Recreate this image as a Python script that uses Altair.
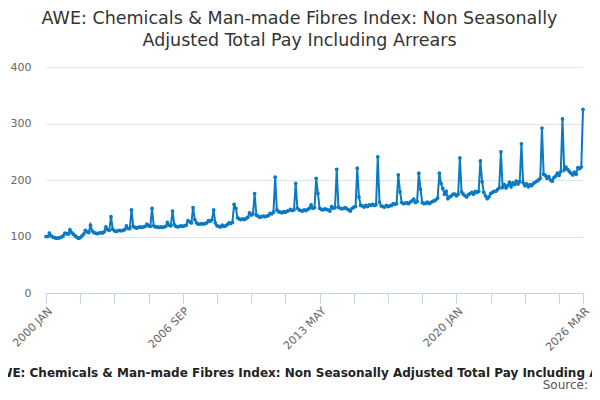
import json

import altair as alt
import pandas as pd

# monthly index values, one list per year
y2000 = [100, 100, 106, 101, 99, 98, 97, 97, 98, 99, 101, 106]
y2001 = [105, 104, 112, 107, 104, 101, 99, 97, 98, 101, 104, 111]
y2002 = [108, 107, 120, 110, 107, 106, 105, 106, 107, 106, 108, 117]
y2003 = [112, 111, 135, 113, 110, 109, 110, 111, 110, 111, 112, 119]
y2004 = [114, 114, 147, 118, 116, 115, 116, 117, 116, 117, 118, 122]
y2005 = [119, 118, 150, 119, 117, 117, 116, 117, 116, 117, 118, 125]
y2006 = [120, 119, 145, 121, 118, 117, 118, 119, 118, 119, 120, 128]
y2007 = [126, 124, 151, 130, 124, 122, 122, 123, 122, 123, 124, 128]
y2008 = [127, 129, 147, 124, 119, 118, 117, 120, 118, 119, 121, 124]
y2009 = [123, 125, 157, 150, 133, 131, 130, 131, 130, 132, 134, 142]
y2010 = [138, 140, 176, 138, 136, 134, 135, 136, 135, 136, 137, 141]
y2011 = [140, 143, 205, 147, 144, 143, 142, 144, 143, 145, 146, 148]
y2012 = [146, 147, 194, 150, 147, 146, 145, 147, 146, 148, 150, 156]
y2013 = [150, 151, 203, 176, 150, 148, 147, 149, 148, 147, 145, 153]
y2014 = [150, 151, 219, 152, 150, 149, 150, 151, 149, 147, 145, 150]
y2015 = [152, 153, 221, 170, 155, 154, 152, 155, 153, 156, 155, 157]
y2016 = [155, 156, 241, 161, 154, 153, 152, 155, 153, 154, 155, 158]
y2017 = [157, 158, 209, 179, 160, 158, 159, 160, 158, 161, 163, 166]
y2018 = [160, 162, 212, 184, 160, 158, 159, 161, 158, 160, 162, 163]
y2019 = [165, 168, 212, 194, 185, 175, 180, 167, 170, 172, 175, 175]
y2020 = [172, 175, 239, 179, 175, 172, 170, 174, 176, 178, 175, 180]
y2021 = [178, 180, 234, 197, 178, 172, 167, 170, 176, 178, 180, 180]
y2022 = [183, 186, 250, 187, 192, 186, 190, 196, 188, 195, 192, 198]
y2023 = [193, 197, 264, 195, 190, 193, 188, 192, 190, 194, 196, 198]
y2024 = [200, 203, 292, 210, 208, 203, 206, 200, 198, 204, 207, 212]
y2025 = [208, 215, 308, 218, 223, 219, 215, 212, 209, 214, 210, 222]
y2026 = [220, 223, 325]

values = (y2000 + y2001 + y2002 + y2003 + y2004 + y2005 + y2006 + y2007 + y2008
          + y2009 + y2010 + y2011 + y2012 + y2013 + y2014 + y2015 + y2016 + y2017
          + y2018 + y2019 + y2020 + y2021 + y2022 + y2023 + y2024 + y2025 + y2026)

month_names = ["JAN", "FEB", "MAR", "APR", "MAY", "JUN",
               "JUL", "AUG", "SEP", "OCT", "NOV", "DEC"]
periods = [f"{2000 + i // 12} {month_names[i % 12]}" for i in range(len(values))]

tick_periods = periods[::20] + [periods[-1]]
shown_labels = ["2000 JAN", "2006 SEP", "2013 MAY", "2020 JAN", "2026 MAR"]
y_ticks = [0, 100, 200, 300, 400]

series_name = ("AWE: Chemicals & Man-made Fibres Index: Non Seasonally "
               "Adjusted Total Pay Including Arrears")
title_lines = ["AWE: Chemicals & Man-made Fibres Index: Non Seasonally",
               "Adjusted Total Pay Including Arrears"]

BLUE = "#0a7ac2"
AXIS_BLUE = "#c3d3e8"
FONT = "DejaVu Sans"

df = pd.DataFrame({"period": periods, "value": values})

line = alt.Chart(df).mark_line(
    color=BLUE,
    strokeWidth=2,
    point=alt.OverlayMarkDef(color=BLUE, size=14, filled=True, opacity=1),
).encode(
    x=alt.X(
        "period:O",
        sort=None,
        scale=alt.Scale(type="point", padding=0),
        axis=alt.Axis(
            values=tick_periods,
            labelExpr="indexof(" + json.dumps(shown_labels) + ", datum.value) >= 0 ? datum.value : ''",
            labelAngle=-45,
            labelFont=FONT,
            labelFontSize=11,
            labelColor="#666666",
            labelPadding=2,
            domainColor=AXIS_BLUE,
            tickColor=AXIS_BLUE,
            tickSize=10,
            title=series_name,
            titleFont=FONT,
            titleFontSize=12,
            titleFontWeight="bold",
            titleColor="#222222",
            titleBaseline="alphabetic",
            titleY=83,
        ),
    ),
    y=alt.Y(
        "value:Q",
        scale=alt.Scale(domain=[0, 400], nice=False),
        axis=alt.Axis(
            values=y_ticks,
            title=None,
            ticks=False,
            domain=False,
            labelFont=FONT,
            labelFontSize=11,
            labelColor="#666666",
            labelPadding=15,
            gridColor="#e3e3e3",
        ),
    ),
)

source = alt.Chart(pd.DataFrame({"t": ["Source:"]})).mark_text(
    align="right", baseline="alphabetic", font=FONT, fontSize=12, color="#555555"
).encode(x=alt.value(542), y=alt.value(322), text="t:N")

chart = alt.layer(line, source).properties(
    width=537,
    height=226,
    autosize=alt.AutoSizeParams(type="none"),
    padding={"left": 38, "top": 59, "right": 9, "bottom": 99},
    title=alt.TitleParams(
        title_lines,
        font=FONT,
        fontSize=17.5,
        fontWeight="normal",
        color="#333333",
        lineHeight=22,
        anchor="middle",
        dx=-15,
        offset=12,
    ),
).configure_view(stroke=None)

chart.save("out.html", embed_options={"renderer": "svg", "actions": False})
